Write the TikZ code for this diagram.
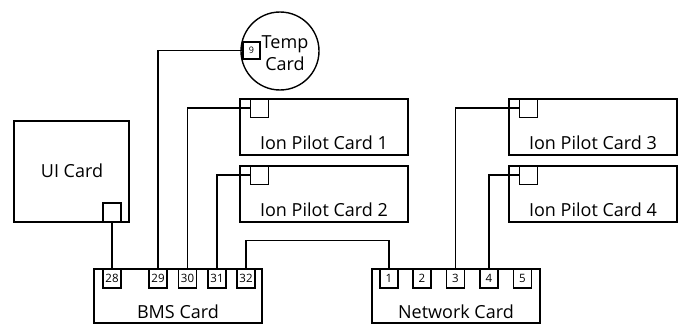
\documentclass[tikz,border=0pt]{standalone}
\usepackage{fontspec}
\setmainfont{Open Sans}
\usepackage{tikz}
\usetikzlibrary{calc}
\definecolor{linemain}{HTML}{000000}
\tikzset{every node/.append style={font=\rmfamily}}
\tikzset{
  card/.style={draw=linemain,line width=1.4pt,minimum width=168pt,minimum height=56pt,inner sep=0pt},
  port/.style={draw=linemain,line width=1.4pt,minimum width=18pt,minimum height=19pt,inner sep=0pt,
    font=\fontsize{11.5}{11.5}\selectfont},
  cardtext/.style={font=\fontsize{18}{22}\selectfont,inner sep=0pt},
  wire/.style={draw=linemain,line width=1.4pt}
}

\begin{document}
\begin{tikzpicture}[x=1pt,y=-1pt]
  \useasboundingbox (0,0) rectangle (681,324);
  % temperature card
  \node[draw=linemain,line width=1.4pt,circle,minimum size=78pt,inner sep=0pt] (temp) at (280,51) {};
  \node[cardtext,align=center] (templbl) at (285,53) {Temp\\Card};
  \node[port,minimum width=17pt,minimum height=17pt,font=\fontsize{9}{9}\selectfont] (temp9) at (251.5,50.5) {9};
  % UI card
  \node[card,minimum width=115pt,minimum height=101pt] (ui) at (71.5,171.5) {};
  \node[cardtext,anchor=base] at (72,177) {UI Card};
  \node[port] (uip) at (112,212.5) {};
  % ion pilot cards
  \foreach \n/\x/\y in {1/324/127,2/324/194,3/593/127,4/593/194} {
    \node[card] (ip\n) at (\x,\y) {};
    \node[cardtext,anchor=base] at ($(ip\n.south)+(0,-6)$) {Ion Pilot Card \n};
    \node[port] (ip\n p) at ($(ip\n.north west)+(20,9.5)$) {};
  }
  % BMS card
  \node[card,minimum height=54pt] (bms) at (178,296) {};
  \node[cardtext,anchor=base] at ($(bms.south)+(0,-5)$) {BMS Card};
  \foreach \n/\x in {28/112,29/158,30/187.5,31/217,32/246} {
    \node[port] (bms\n) at (\x,278.5) {\n};
  }
  % network card
  \node[card,minimum height=54pt] (net) at (456,296) {};
  \node[cardtext,anchor=base] at ($(net.south)+(0,-5)$) {Network Card};
  \foreach \n/\x in {1/389,2/422,3/455.5,4/489,5/522.5} {
    \node[port] (net\n) at (\x,278.5) {\n};
  }
  % wiring
  \draw[wire] (temp9.west) -| (bms29.north);
  \draw[wire] (uip.south) -- (bms28.north);
  \foreach \p/\q in {ip1p/bms30,ip2p/bms31,ip3p/net3,ip4p/net4} {
    \draw[wire] (\p.west) -| (\q.north);
  }
  \draw[wire] (bms32.north) -- ++(0,-28) -| (net1.north);
\end{tikzpicture}
\end{document}
